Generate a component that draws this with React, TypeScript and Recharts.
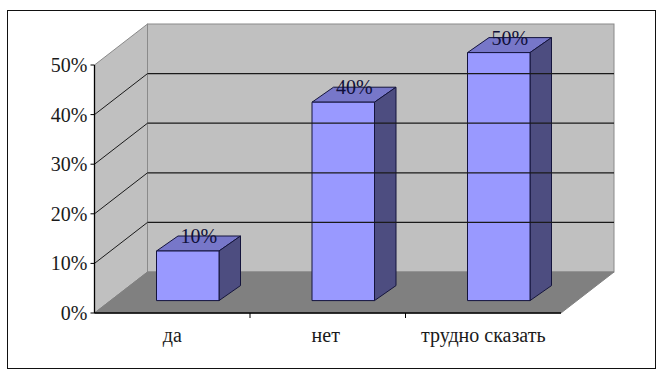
import React from "react";
import { BarChart, Bar, XAxis, YAxis, ReferenceArea, ReferenceLine, LabelList } from "recharts";

const categories = ["да", "нет", "трудно сказать"];
const values = [10, 40, 50];
const yTicks = [0, 10, 20, 30, 40, 50];
const gridTicks = [10, 20, 30, 40];

const rows = categories.map((name, i) => ({ name, value: values[i] }));

const W = 656;
const H = 382;
const PLOT = { left: 94.5, top: 65, right: 561, bottom: 313 };
const DEPTH = { dx: 53, dy: 41 };
const BAR_SHIFT = { dx: 15, dy: 12.4 };
const BAR_DEPTH = { dx: 21.5, dy: 15 };
const FONT = "'Liberation Serif', 'Times New Roman', serif";
const COLORS = {
  wall: "#c0c0c0",
  wallEdge: "#8a8a8a",
  floor: "#808080",
  front: "#9999ff",
  top: "#7777c9",
  side: "#4d4d80",
  edge: "#14143c",
  grid: "#1a1a1a",
  text: "#1a1a1a",
};

const pts = (a: number[][]) => a.map((p) => p.join(",")).join(" ");

const Walls = (props: any) => {
  const { x, y, width, height } = props;
  const r = x + width;
  const b = y + height;
  const { dx, dy } = DEPTH;
  return (
    <g>
      <polygon
        points={pts([[x, y], [x + dx, y - dy], [x + dx, b - dy], [x, b]])}
        fill={COLORS.wall}
        stroke={COLORS.wallEdge}
        strokeWidth={1}
      />
      <rect x={x + dx} y={y - dy} width={width} height={height} fill={COLORS.wall} stroke={COLORS.wallEdge} strokeWidth={1} />
      <polygon
        points={pts([[x, b], [x + dx, b - dy], [r + dx, b - dy], [r, b]])}
        fill={COLORS.floor}
        stroke={COLORS.floor}
        strokeWidth={1}
      />
    </g>
  );
};

const GridLine = (props: any) => {
  const { x1, x2, y1 } = props;
  const { dx, dy } = DEPTH;
  return (
    <g>
      <line x1={x1} y1={y1} x2={x1 + dx} y2={y1 - dy} stroke={COLORS.grid} strokeWidth={1} />
      <line x1={x1 + dx} y1={y1 - dy} x2={x2 + dx} y2={y1 - dy} stroke={COLORS.grid} strokeWidth={1.3} />
    </g>
  );
};

const Box = (props: any) => {
  const { x, y, width, height } = props;
  const l = x + BAR_SHIFT.dx;
  const t = y - BAR_SHIFT.dy;
  const r = l + width;
  const b = t + height;
  const { dx, dy } = BAR_DEPTH;
  return (
    <g stroke={COLORS.edge} strokeWidth={1} strokeLinejoin="round">
      <polygon points={pts([[l, t], [l + dx, t - dy], [r + dx, t - dy], [r, t]])} fill={COLORS.top} />
      <polygon points={pts([[r, t], [r + dx, t - dy], [r + dx, b - dy], [r, b]])} fill={COLORS.side} />
      <rect x={l} y={t} width={width} height={height} fill={COLORS.front} />
    </g>
  );
};

const BarLabel = (props: any) => {
  const { x, y, width, value } = props;
  return (
    <text
      x={x + width / 2 + BAR_SHIFT.dx + 11}
      y={y - BAR_SHIFT.dy - 8}
      textAnchor="middle"
      fontFamily={FONT}
      fontSize={20}
      fill="#10103a"
    >
      {value}%
    </text>
  );
};

const bandW = (PLOT.right - PLOT.left) / categories.length;

const XTick = (props: any) => {
  const { x, y, payload, index } = props;
  const sep = x + bandW / 2;
  return (
    <g>
      {index < categories.length - 1 && <line x1={sep} y1={PLOT.bottom} x2={sep} y2={PLOT.bottom + 5} stroke="#000" />}
      <text x={x + (index === 1 ? -2 : 0)} y={y + 21} textAnchor="middle" fontFamily={FONT} fontSize={20} fill={COLORS.text}>
        {payload.value}
      </text>
    </g>
  );
};

const YTick = (props: any) => {
  const { x, y, payload } = props;
  return (
    <text x={x - 1} y={y + 7} textAnchor="end" fontFamily={FONT} fontSize={20} fill={COLORS.text}>
      {payload.value}%
    </text>
  );
};

export default function App() {
  return (
    <div style={{ position: "absolute", left: 0, top: 0, width: W, height: H, background: "#fff" }}>
      <div
        style={{
          position: "absolute",
          left: 6.5,
          top: 9.5,
          width: 647,
          height: 357,
          border: "1.5px solid #111",
          boxSizing: "content-box",
        }}
      />
      <div style={{ position: "absolute", left: 0, top: 0 }}>
        <BarChart
          width={W}
          height={H}
          data={rows}
          barSize={62.5}
          margin={{ top: PLOT.top, left: PLOT.left - 60, right: W - PLOT.right, bottom: H - PLOT.bottom - 30 }}
        >
          <ReferenceArea x1={categories[0]} x2={categories[2]} y1={0} y2={50} shape={<Walls />} ifOverflow="visible" />
          {gridTicks.map((t) => (
            <ReferenceLine key={t} y={t} ifOverflow="visible" shape={<GridLine />} />
          ))}
          <XAxis dataKey="name" height={30} axisLine={{ stroke: "#000", strokeWidth: 1.3 }} tickLine={false} tick={<XTick />} interval={0} />
          <YAxis
            width={60}
            domain={[0, 50]}
            ticks={yTicks}
            axisLine={{ stroke: "#000", strokeWidth: 1.3 }}
            tickLine={{ stroke: "#000" }}
            tickSize={4}
            tickMargin={2}
            tick={<YTick />}
          />
          <Bar dataKey="value" isAnimationActive={false} shape={<Box />}>
            <LabelList dataKey="value" content={<BarLabel />} />
          </Bar>
        </BarChart>
      </div>
    </div>
  );
}
